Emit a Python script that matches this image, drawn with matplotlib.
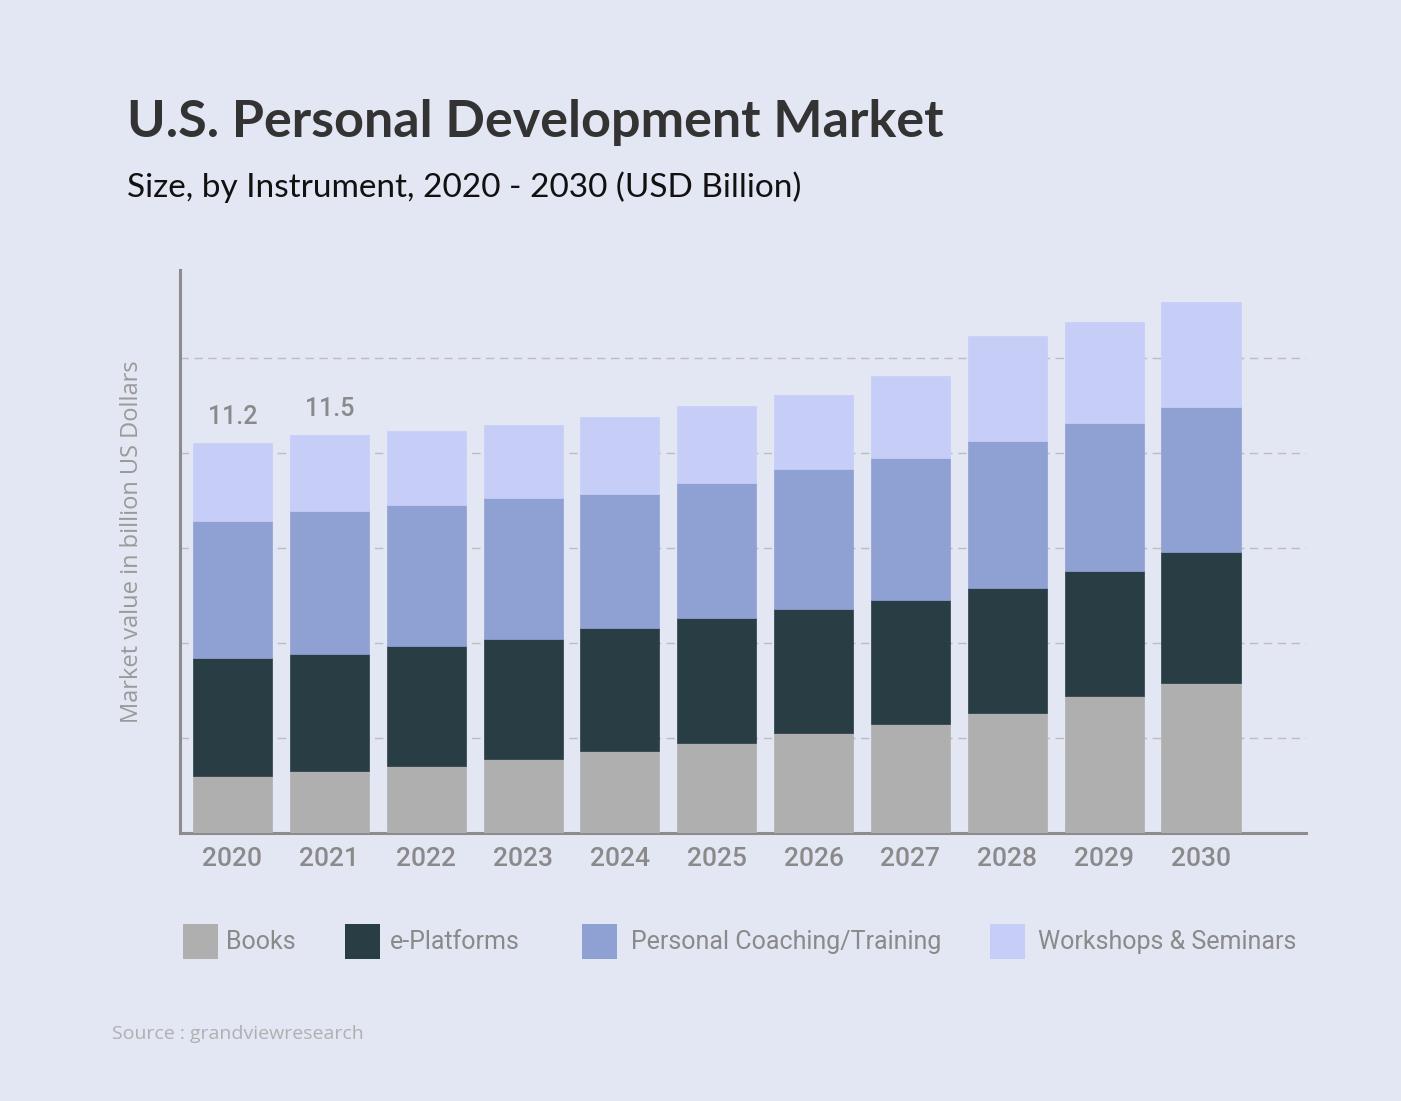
import matplotlib
matplotlib.use("Agg")
import matplotlib.pyplot as plt
import numpy as np
from matplotlib.patches import Rectangle

years = ["2020", "2021", "2022", "2023", "2024", "2025", "2026", "2027", "2028", "2029", "2030"]
books = [1.64, 1.78, 1.92, 2.13, 2.35, 2.58, 2.87, 3.13, 3.45, 3.93, 4.31]
eplatforms = [3.39, 3.36, 3.45, 3.45, 3.53, 3.59, 3.56, 3.56, 3.59, 3.59, 3.76]
coaching = [3.93, 4.11, 4.05, 4.05, 3.85, 3.88, 4.02, 4.08, 4.22, 4.25, 4.16]
workshops = [2.24, 2.18, 2.13, 2.10, 2.21, 2.21, 2.13, 2.35, 3.02, 2.90, 3.02]
series_names = ["Books", "e-Platforms", "Personal Coaching/Training", "Workshops & Seminars"]
colors = ["#AFAFAF", "#283D44", "#8FA0D3", "#C6CEF7"]
label_years = ["2020", "2021"]
label_texts = ["11.2", "11.5"]
grid_vals = [2.728, 5.456, 8.184, 10.912, 13.64]

BG = "#E3E6F3"
W, H = 1401, 1101
fig = plt.figure(figsize=(14.01, 11.01), dpi=100, facecolor=BG)
ax = fig.add_axes([180/W, 1 - 833/H, (1306-180)/W, (833-270)/H])
ax.set_facecolor(BG)

x = np.arange(len(years))
bottom = np.zeros(len(years))
for name, vals, c in zip(series_names, [books, eplatforms, coaching, workshops], colors):
    ax.bar(x, vals, width=0.816, bottom=bottom, color=c, label=name, zorder=3,
           edgecolor=c, linewidth=0.5)
    bottom += np.array(vals)

for yr, t in zip(label_years, label_texts):
    i = years.index(yr)
    ax.annotate(t, (i, bottom[i]), xytext=(0, 10), textcoords="offset points",
                ha="center", va="bottom", fontsize=18, color="#8A8A8A",
                family="Roboto", fontweight="medium")

ax.set_xlim(-0.542, 11.084)
ax.set_ylim(0, 16.17)
ax.set_xticks(x)
ax.set_xticklabels(years, fontsize=19, color="#8A8A8A", family="Roboto", fontweight="medium")
ax.tick_params(axis="x", length=0, pad=10)
ax.set_yticks(grid_vals)
ax.set_yticklabels([])
ax.tick_params(axis="y", length=0)
ax.grid(axis="y", linestyle=(0, (6, 4)), color="#BDBDBD", linewidth=1, zorder=0)
for s in ["top", "right"]:
    ax.spines[s].set_visible(False)
for s in ["left", "bottom"]:
    ax.spines[s].set_color("#8C8C8C")
    ax.spines[s].set_linewidth(2.2)

ax.set_ylabel("Market value in billion US Dollars", fontsize=17, color="#9A9A9A",
              family="Open Sans")
ax.yaxis.set_label_coords(-0.032, (833 - 542) / (833 - 270))

fig.text(127/W, 1 - 123/H, "U.S. Personal Development Market", fontsize=37.5,
         fontweight="bold", color="#333333", family="Lato", va="center", ha="left")
fig.text(127/W, 1 - 187/H, "Size, by Instrument, 2020 - 2030 (USD Billion)",
         fontsize=24, color="#111111", family="Lato", va="center", ha="left")
fig.text(112/W, 1 - 1034/H, "Source : grandviewresearch", fontsize=14,
         color="#B0B0B0", family="Open Sans", va="center", ha="left")

# legend
box_x = [183, 345, 582, 990]
text_x = [226, 390, 631, 1038]
for bx, tx, name, c in zip(box_x, text_x, series_names, colors):
    fig.patches.append(Rectangle((bx/W, 1 - 959/H), 35/W, 35/H, transform=fig.transFigure,
                                 facecolor=c, edgecolor="none"))
    fig.text(tx/W, 1 - 942/H, name, fontsize=18, color="#8A8A8A", family="Roboto",
             va="center", ha="left")

fig.savefig("out.png", dpi=100, facecolor=BG)
